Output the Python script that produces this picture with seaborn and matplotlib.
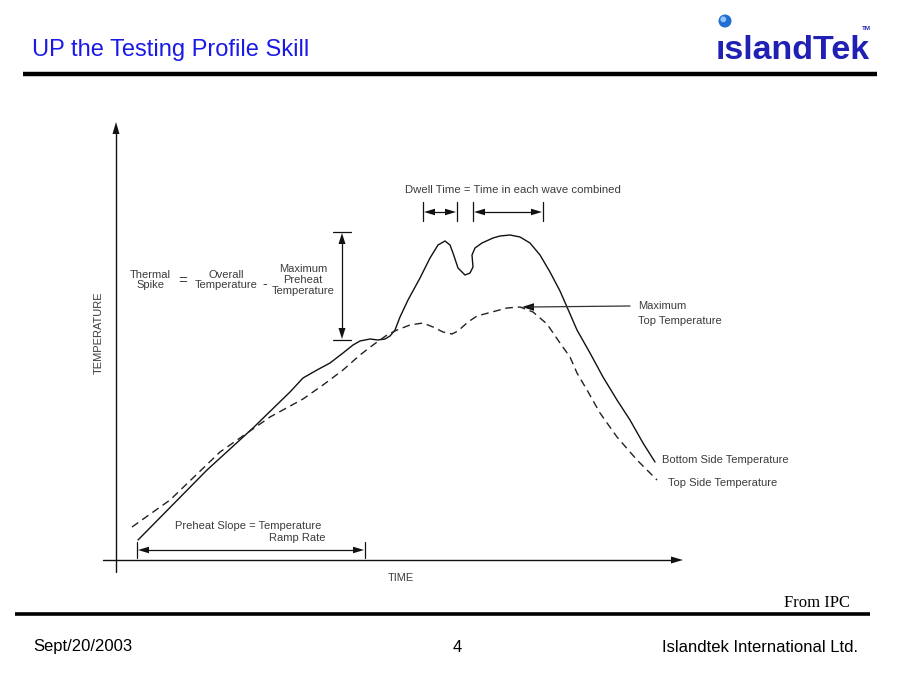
import matplotlib
matplotlib.use("Agg")
import matplotlib.pyplot as plt
import seaborn as sns
import pandas as pd
from matplotlib import font_manager
from matplotlib.patches import Circle

sns.set_style("white")
plt.rcParams['font.family'] = ['Liberation Sans', 'DejaVu Sans']

# ---- data (time, temperature in arbitrary diagram units) ----
bottom_time = [22, 91, 137, 174, 187, 201, 214, 227, 237, 244, 254, 262, 269, 274,
               279, 284, 292, 304, 314, 322, 329, 334, 337, 342, 349, 354, 357,
               356, 359, 366, 377, 384, 394, 404, 414, 424, 434, 444, 451, 461,
               474, 487, 501, 514, 527, 539]
bottom_temp = [20, 90, 132, 168, 182, 190, 197, 207, 215, 219, 221, 220, 221, 224,
               230, 243, 260, 282, 302, 315, 319, 315, 307, 292, 285, 287, 293,
               305, 312, 317, 322, 324, 325, 323, 317, 305, 288, 269, 253, 230,
               207, 183, 160, 140, 117, 98]

top_time = [16, 54, 104, 154, 187, 207, 227, 244, 257, 271, 281, 294, 307, 317,
            327, 336, 342, 352, 361, 376, 391, 404, 417, 431, 444, 454, 461, 471,
            484, 501, 521, 541]
top_temp = [33, 60, 108, 143, 161, 175, 190, 205, 215, 225, 230, 235, 237, 233,
            228, 226, 229, 238, 244, 248, 252, 253, 248, 236, 217, 203, 187, 170,
            147, 123, 100, 80]

title = "UP the Testing Profile Skill"
footer_left = "Sept/20/2003"
footer_mid = "4"
footer_right = "Islandtek International Ltd."

INK = "#3c3c3c"

fig = plt.figure(figsize=(9, 6.75), dpi=100)
fig.patch.set_facecolor("white")

# chart axes: maps directly onto the drawing region
ax = fig.add_axes([0, 0, 1, 1])
ax.set_xlim(-116, 784)
ax.set_ylim(-115, 560)
ax.axis("off")

df_b = pd.DataFrame({"time": bottom_time, "temp": bottom_temp})
df_t = pd.DataFrame({"time": top_time, "temp": top_temp})
sns.lineplot(data=df_b, x="time", y="temp", ax=ax, color="#111111", lw=1.0,
             sort=False, estimator=None)
sns.lineplot(data=df_t, x="time", y="temp", ax=ax, color="#222222", lw=1.0,
             sort=False, estimator=None, linestyle=(0, (5.5, 3.5)))

# overlay axes in pixel coordinates for slide decorations / annotations
bg = fig.add_axes([0, 0, 1, 1])
bg.set_xlim(0, 900)
bg.set_ylim(675, 0)
bg.axis("off")
bg.patch.set_alpha(0)


def head(x, y, d, L=11, W=3.6, c="#111111"):
    if d == "r":
        xs, ys = [x, x - L, x - L], [y, y - W, y + W]
    elif d == "l":
        xs, ys = [x, x + L, x + L], [y, y - W, y + W]
    elif d == "u":
        xs, ys = [x, x - W, x + W], [y, y + L, y + L]
    else:
        xs, ys = [x, x - W, x + W], [y, y - L, y - L]
    bg.fill(xs, ys, color=c, lw=0)


# axes arrows
bg.plot([116, 116], [572, 130], color="#111111", lw=1.0)
head(116, 122, "u", L=12, W=3.5)
bg.plot([103, 675], [560, 560], color="#111111", lw=1.0)
head(683, 560, "r", L=12, W=3.5)
bg.text(99, 333, "TEMPERATURE", rotation=90, ha="center", va="center",
        fontsize=8, color=INK)
bg.text(401, 578, "TIME", ha="center", va="center", fontsize=8, color=INK)

# thermal spike bracket
bg.plot([333, 351], [232, 232], color="#111111", lw=0.9)
bg.plot([333, 351], [340, 340], color="#111111", lw=0.9)
bg.plot([342, 342], [240, 332], color="#111111", lw=0.9)
head(342, 233, "u", L=11, W=3.5)
head(342, 339, "d", L=11, W=3.5)
bg.text(150, 280, "Thermal\nSpike", ha="center", va="center", fontsize=8,
        color=INK, linespacing=1.1)
bg.text(183, 281, "=", ha="center", va="center", fontsize=11, color=INK)
bg.text(226, 280, "Overall\nTemperature", ha="center", va="center", fontsize=8,
        color=INK, linespacing=1.1)
bg.text(265, 284, "-", ha="center", va="center", fontsize=10, color=INK)
bg.text(303, 280, "Maximum\nPreheat\nTemperature", ha="center", va="center",
        fontsize=8, color=INK, linespacing=1.1)

# dwell time
bg.text(513, 190, "Dwell Time = Time in each wave combined", ha="center",
        va="center", fontsize=8.2, color=INK)
for xv in (423, 457, 473, 543):
    bg.plot([xv, xv], [202, 221], color="#111111", lw=0.9)
bg.plot([430, 450], [212, 212], color="#111111", lw=0.9)
head(424, 212, "l", L=11, W=3.3)
head(456, 212, "r", L=11, W=3.3)
bg.plot([480, 536], [212, 212], color="#111111", lw=0.9)
head(474, 212, "l", L=11, W=3.3)
head(542, 212, "r", L=11, W=3.3)

# maximum top temperature arrow
bg.plot([530, 630], [307, 306], color="#333333", lw=0.9)
head(522, 307, "l", L=12, W=3.8)
bg.text(638, 306, "Maximum", ha="left", va="center", fontsize=8, color=INK)
bg.text(638, 321, "Top Temperature", ha="left", va="center", fontsize=8, color=INK)

bg.text(662, 460, "Bottom Side Temperature", ha="left", va="center", fontsize=8,
        color=INK)
bg.text(668, 483, "Top Side Temperature", ha="left", va="center", fontsize=8,
        color=INK)

# preheat slope
bg.text(175, 526, "Preheat Slope = Temperature", ha="left", va="center",
        fontsize=8, color=INK)
bg.text(269, 538, "Ramp Rate", ha="left", va="center", fontsize=8, color=INK)
bg.plot([137, 137], [542, 558], color="#111111", lw=0.9)
bg.plot([365, 365], [542, 558], color="#111111", lw=0.9)
bg.plot([145, 357], [550, 550], color="#111111", lw=0.9)
head(138, 550, "l", L=11, W=3.3)
head(364, 550, "r", L=11, W=3.3)

# ---- slide decoration ----
bg.text(32, 50, title, ha="left", va="center", fontsize=17, color="#1a1ae6")
bg.plot([23, 877], [74, 74], color="black", lw=3.2, solid_capstyle="butt")
bg.plot([15, 870], [614, 614], color="black", lw=2.6, solid_capstyle="butt")

# logo
narrow = None
try:
    font_manager.findfont(font_manager.FontProperties(family="Liberation Sans Narrow"),
                          fallback_to_default=False)
    narrow = "Liberation Sans Narrow"
except Exception:
    narrow = None
if narrow:
    bg.text(716, 59, "\u0131slandTek", ha="left", va="baseline", fontsize=28,
            fontweight="bold", color="#2020b4", family=narrow)
else:
    bg.text(716, 59, "\u0131slandTek", ha="left", va="baseline", fontsize=24.5,
            fontweight="bold", color="#2020b4")
bg.add_patch(Circle((725, 21), 5.8, color="#1e6fd0", zorder=5))
bg.add_patch(Circle((723.3, 19.3), 2.2, color="#8fc4ff", zorder=6))
bg.text(866, 28, "TM", ha="center", va="center", fontsize=4.5,
        fontweight="bold", color="#2020b4")

bg.text(850, 603, "From IPC", ha="right", va="center", fontsize=12,
        color="black", family=["Liberation Serif", "DejaVu Serif"])
bg.text(33, 647, footer_left, ha="left", va="center", fontsize=12, color="black")
bg.text(457, 647, footer_mid, ha="center", va="center", fontsize=12, color="black")
bg.text(858, 647, footer_right, ha="right", va="center", fontsize=12, color="black")

fig.savefig("out.png", dpi=100, facecolor="white")
